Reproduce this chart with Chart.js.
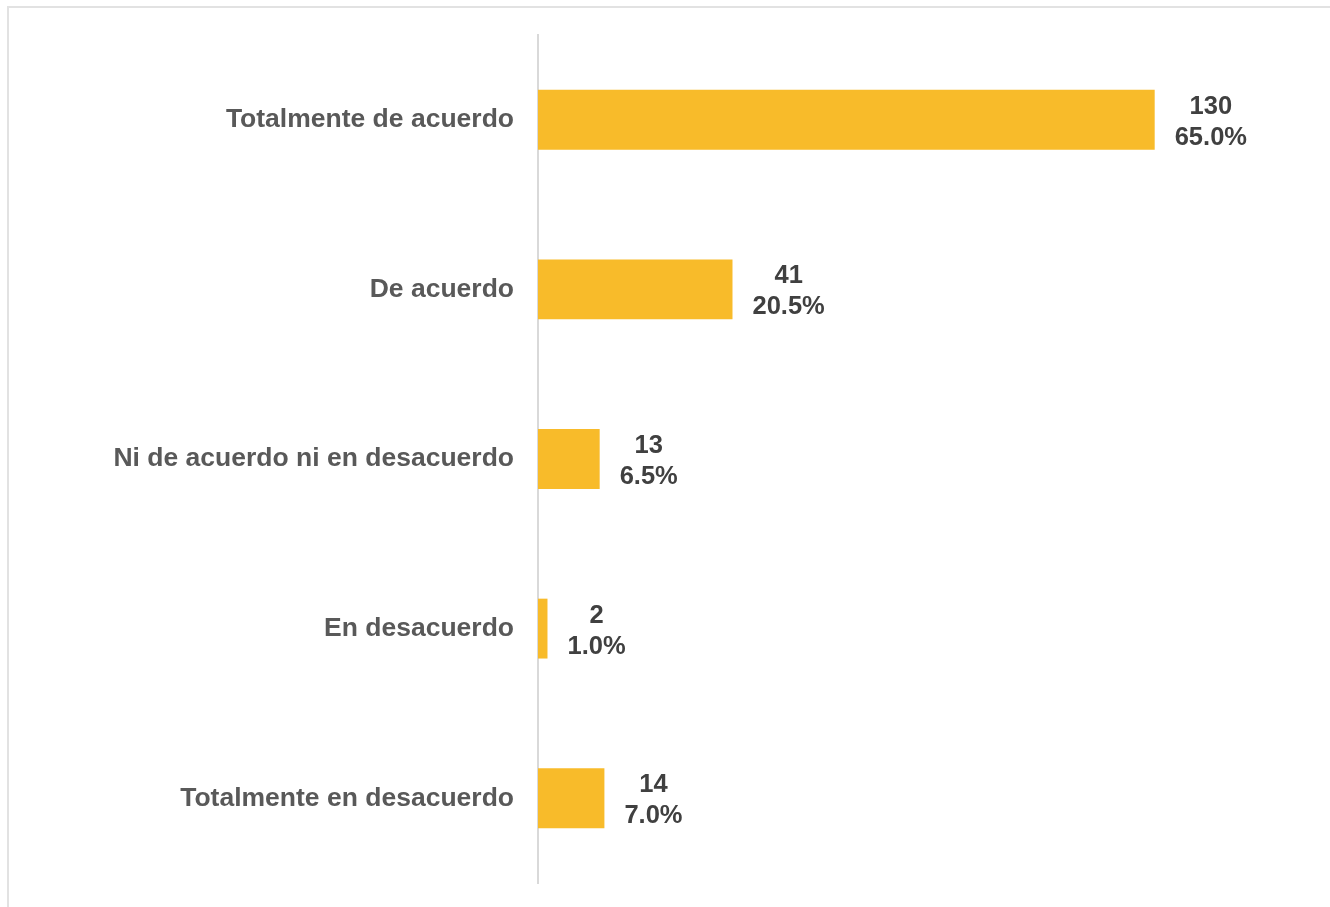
<!DOCTYPE html>
<html>
<head>
<meta charset="utf-8">
<script src="https://cdn.jsdelivr.net/npm/chart.js@4"></script>
<style>
  body { margin: 0; background: #fff; overflow: hidden; }
  #frame { position: absolute; left: 7px; top: 6px; width: 1340px; height: 1000px; border: 2px solid #e2e2e2; border-right: none; border-bottom: none; box-sizing: border-box; }
  #wrap { position: absolute; left: 0; top: 0; width: 1330px; height: 907px; }
</style>
</head>
<body>
<div id="frame"></div>
<div id="wrap"><canvas id="myChart"></canvas></div>
<script>
const categories = ['Totalmente de acuerdo', 'De acuerdo', 'Ni de acuerdo ni en desacuerdo', 'En desacuerdo', 'Totalmente en desacuerdo'];
const counts = [130, 41, 13, 2, 14];
const percents = ['65.0%', '20.5%', '6.5%', '1.0%', '7.0%'];

const FONT = '"Liberation Sans", Arial, sans-serif';
const ctx = document.getElementById('myChart').getContext('2d');

// two-line value labels next to each bar
const valueLabels = {
  id: 'valueLabels',
  afterDatasetsDraw(chart) {
    const c = chart.ctx;
    const meta = chart.getDatasetMeta(0);
    c.save();
    c.font = 'bold 25.5px ' + FONT;
    c.fillStyle = '#404040';
    c.textAlign = 'center';
    c.textBaseline = 'middle';
    meta.data.forEach((bar, i) => {
      const w = c.measureText(percents[i]).width;
      const cx = bar.x + 20 + w / 2;
      c.fillText(String(counts[i]), cx, bar.y - 13);
      c.fillText(percents[i], cx, bar.y + 18);
    });
    c.restore();
  }
};

let myChart = new Chart(ctx, {
  type: 'bar',
  data: {
    labels: categories,
    datasets: [{
      data: counts,
      backgroundColor: '#F8BB2A',
      barPercentage: 0.353,
      categoryPercentage: 1.0
    }]
  },
  options: {
    indexAxis: 'y',
    responsive: true,
    maintainAspectRatio: false,
    animation: false,
    layout: { padding: { top: 35, bottom: 24, right: 33, left: 0 } },
    plugins: { legend: { display: false }, tooltip: { enabled: false } },
    scales: {
      x: { display: false, min: 0, max: 160 },
      y: {
        afterFit: (scale) => {
          scale.width = 538;
          scale.paddingTop = 0;
          scale.paddingBottom = 0;
        },
        grid: { drawOnChartArea: false, drawTicks: false },
        border: { display: true, color: '#d9d9d9', width: 2 },
        ticks: {
          padding: 24,
          color: '#595959',
          font: { family: FONT, size: 26.5, weight: 'bold' }
        }
      }
    }
  },
  plugins: [valueLabels]
});
</script>
</body>
</html>
